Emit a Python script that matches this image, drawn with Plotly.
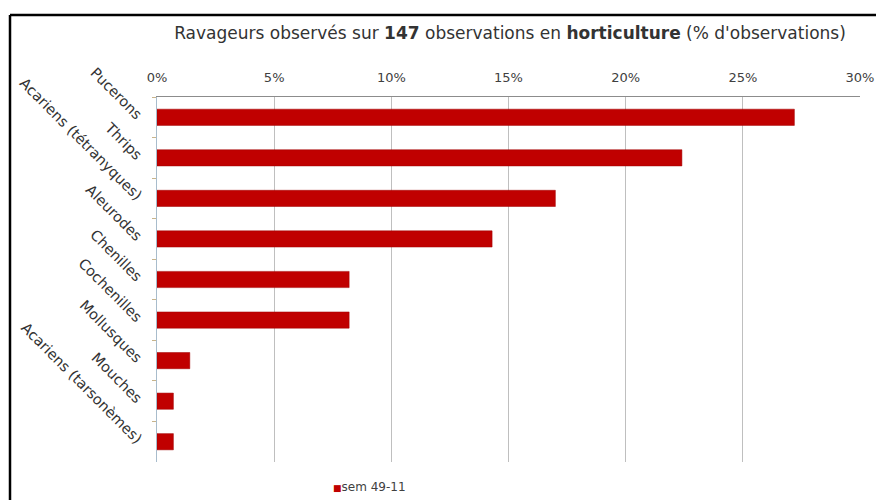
import plotly.graph_objects as go

categories = ["Pucerons", "Thrips", "Acariens (tétranyques)", "Aleurodes", "Chenilles",
              "Cochenilles", "Mollusques", "Mouches", "Acariens (tarsonèmes)"]
values = [27.2, 22.4, 17.0, 14.3, 8.2, 8.2, 1.4, 0.7, 0.7]
series_name = "sem 49-11"
x_ticks = [0, 5, 10, 15, 20, 25, 30]
x_tick_labels = [f"{v}%" for v in x_ticks]

BAR = "#c00000"
FONT = "DejaVu Sans"

fig = go.Figure()
fig.add_trace(go.Bar(
    y=categories, x=values, orientation="h", name=series_name,
    marker=dict(color=BAR, line=dict(color="#a00000", width=0.5)),
    width=0.4, showlegend=False,
))

W, H = 876, 500
L, R, T, B = 157, 16, 97, 38
pw, ph = W - L - R, H - T - B

def px_x(p):
    return (p - L) / pw

def px_y(p):
    return (H - B - p) / ph

fig.update_layout(
    width=W, height=H,
    margin=dict(l=L, r=R, t=T, b=B, autoexpand=False),
    paper_bgcolor="white", plot_bgcolor="white",
    font=dict(family=FONT, color="#404040", size=12),
    showlegend=False,
    title=dict(
        text="Ravageurs observés sur <b>147</b> observations en <b>horticulture</b> (% d'observations)",
        xref="container", x=510 / W, xanchor="center",
        yref="container", y=1 - 33 / H, yanchor="middle",
        font=dict(family=FONT, size=17, color="#333333"),
    ),
    xaxis=dict(
        side="top", range=[0, 30], tickvals=x_ticks, ticktext=x_tick_labels,
        showgrid=True, gridcolor="#bfbfbf", gridwidth=1,
        showline=True, linecolor="#8c8c8c", linewidth=1,
        zeroline=False, ticks="", ticklabelstandoff=9,
        tickfont=dict(size=13, color="#404040"),
        automargin=False, fixedrange=True,
    ),
    yaxis=dict(
        autorange="reversed", type="category",
        tickangle=45, tickson="boundaries", ticks="outside", ticklen=4,
        tickcolor="#c8b48c", showline=True, linecolor="#a8bccc", linewidth=1,
        showgrid=False, ticklabelstandoff=12, automargin=False,
        tickfont=dict(size=14.5, color="#333333"),
    ),
    bargap=0.6,
    annotations=[
        dict(xref="paper", yref="paper", x=px_x(331), y=px_y(487),
             xanchor="left", yanchor="middle", showarrow=False,
             text=f"<span style='color:{BAR};font-size:9px'>■</span>{series_name}",
             font=dict(family=FONT, size=12, color="#404040")),
    ],
    shapes=[
        dict(type="line", xref="paper", yref="paper", x0=px_x(10), x1=px_x(876),
             y0=px_y(15), y1=px_y(15), line=dict(color="black", width=2.5)),
        dict(type="line", xref="paper", yref="paper", x0=px_x(10), x1=px_x(10),
             y0=px_y(15), y1=px_y(500), line=dict(color="black", width=2.5)),
    ],
)

fig.write_html("out.html", config={"displayModeBar": False})
